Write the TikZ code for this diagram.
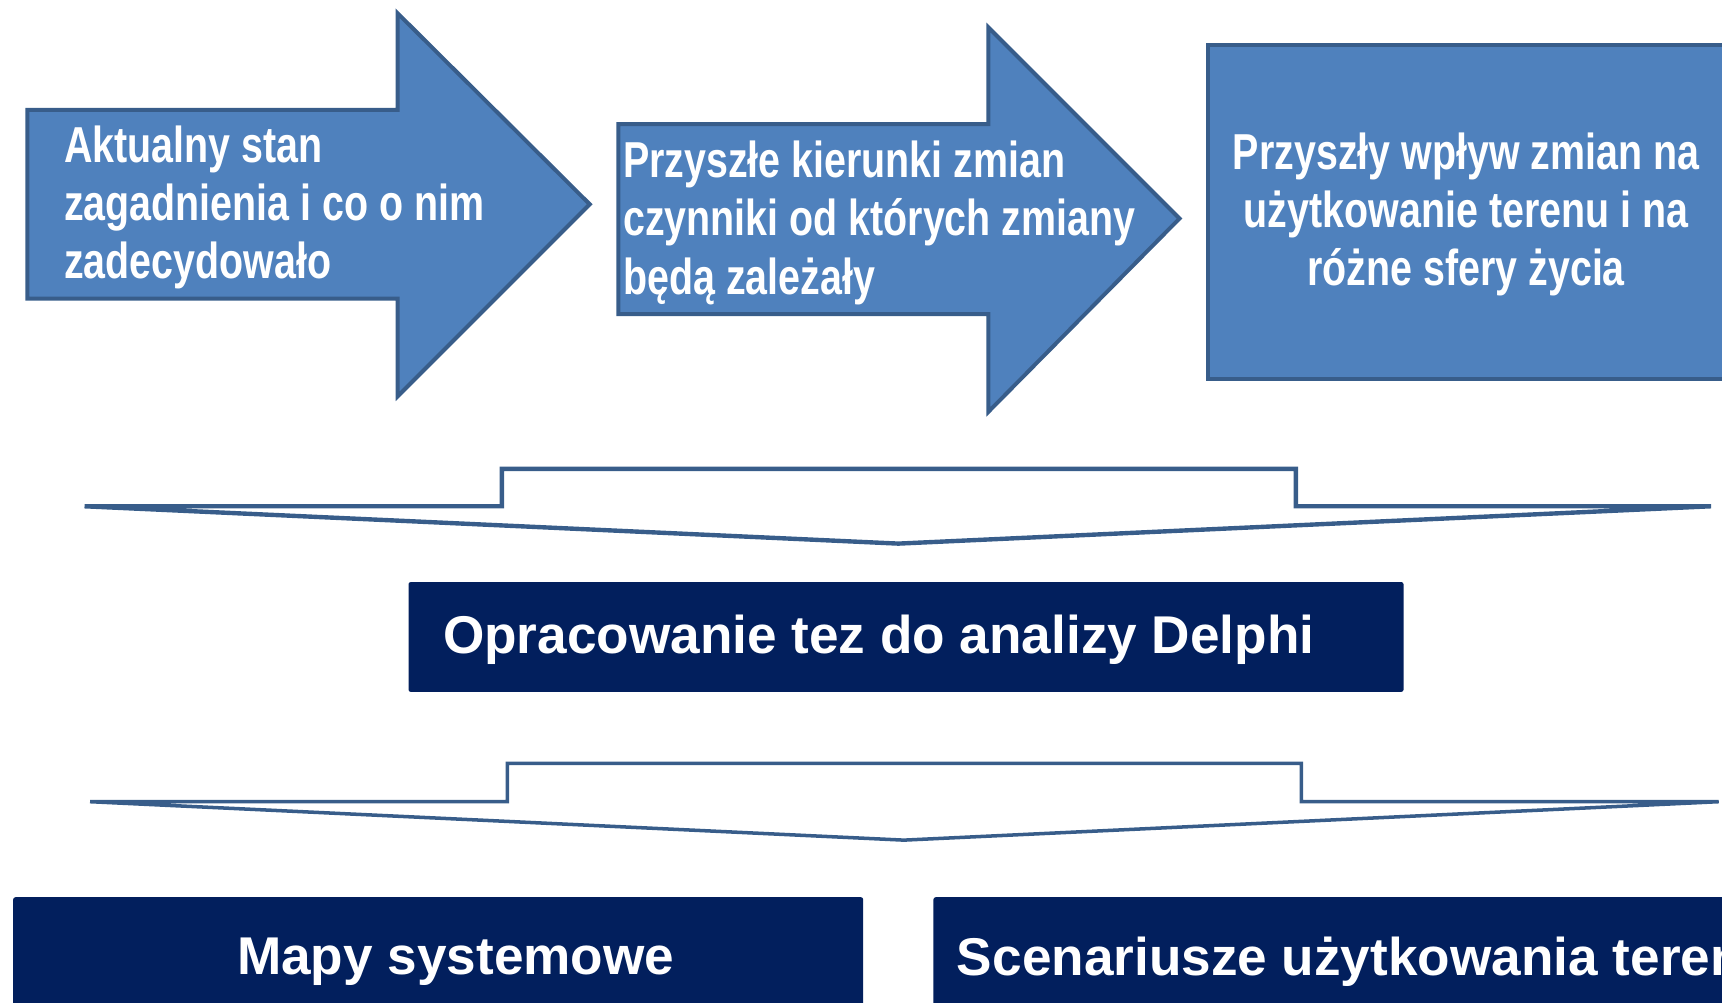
\documentclass[tikz,border=0pt]{standalone}
\usepackage{fontspec}
\setmainfont{Liberation Sans}
\newfontfamily\narrowfont{Liberation Sans}[FakeStretch=0.78]
\usepackage{xcolor}
\usepackage{tikz}
\usetikzlibrary{positioning}

\definecolor{lightblue}{HTML}{4F81BD}
\definecolor{blueedge}{HTML}{385D8A}
\definecolor{navy}{HTML}{021F5D}

\tikzset{
  bluebox/.style={fill=lightblue, draw=blueedge, line width=1.8pt},
  bracket/.style={draw=blueedge, line width=2pt, line join=miter},
  navybox/.style={fill=navy, draw=none, rounded corners=1pt},
  toptext/.style={text=white, align=left, inner sep=0pt,
    font=\narrowfont\bfseries\fontsize{23}{26.5}\selectfont},
  boxtext/.style={text=white, inner sep=0pt,
    font=\bfseries\fontsize{24.2}{28}\selectfont}
}

\begin{document}
\begin{tikzpicture}[x=0.5pt, y=-0.5pt]
            \useasboundingbox (0,0) rectangle (1568,913);
            \clip (0,0) rectangle (1568,913);

            % arrows and box on top
            \draw[bluebox] (25,100) -- (362,100) -- (362,12) -- (537,186) -- (362,361) -- (362,272) -- (25,272) -- cycle;
            \draw[bluebox] (563,113) -- (900,113) -- (900,25) -- (1074,199) -- (900,375) -- (900,286) -- (563,286) -- cycle;
            \draw[bluebox] (1100,41) rectangle (1580,345);

            \node (stan) at (58,189) [anchor=west, toptext] {Aktualny stan\\zagadnienia i co o nim\\zadecydowało};
            \node (kierunki) at (567,203) [anchor=west, toptext] {Przyszłe kierunki zmian\\czynniki od których zmiany\\będą zależały};
            \node (wplyw) at (1335,195) [toptext, align=center] {Przyszły wpływ zmian na\\użytkowanie terenu i na\\różne sfery życia};

            % first bracket
            \draw[bracket] (77,461) -- (457,461) -- (457,427) -- (1180,427) -- (1180,461) -- (1558,461) -- (818,495) -- cycle;

            \fill[navybox] (372,530) rectangle (1278,630);
            \node (tezy) at (403,583) [anchor=west, boxtext] {Opracowanie tez do analizy Delphi};

            % second bracket
            \draw[bracket, line width=1.6pt] (82,730) -- (462,730) -- (462,695) -- (1185,695) -- (1185,730) -- (1565,730) -- (823,765) -- cycle;

            \fill[navybox] (12,817) rectangle (786,930);
            \fill[navybox] (850,817) rectangle (1590,930);
            \node (mapy) at (415,876) [boxtext] {Mapy systemowe};
            \node (scenariusze) at (871,876) [anchor=west, boxtext] {Scenariusze użytkowania terenu};
        \end{tikzpicture}
\end{document}
